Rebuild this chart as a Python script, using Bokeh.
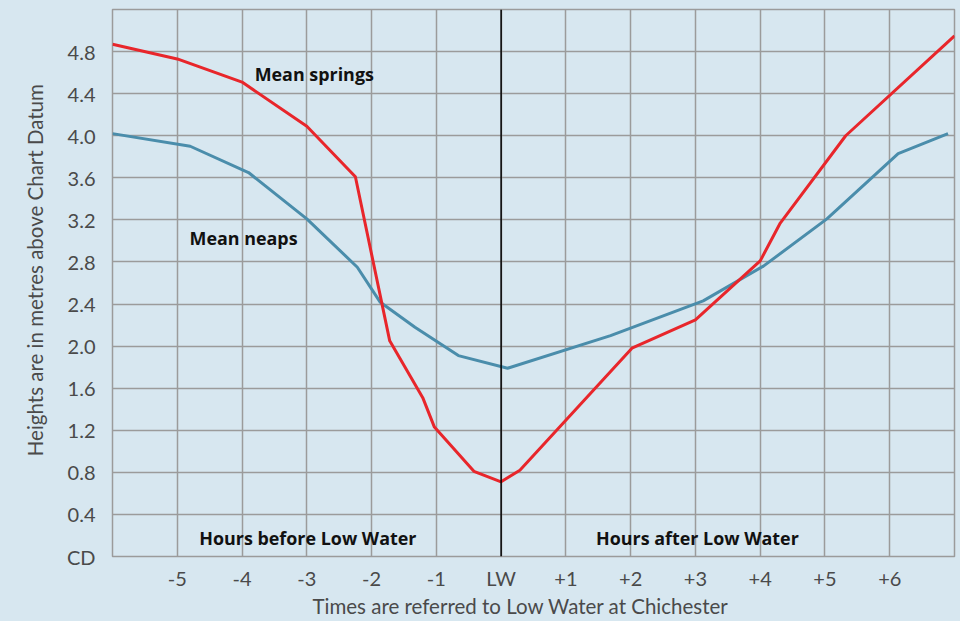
from bokeh.plotting import figure
from bokeh.models import Range1d, FixedTicker, Span, Label
from bokeh.embed import file_html
from bokeh.resources import INLINE

# ---- data ----
springs_x = [-6, -5, -4, -3, -2.25, -1.72, -1.21, -1.03, -0.42, 0, 0.29, 2.02, 3.0, 4.0, 4.31, 5.32, 7.0]
springs_y = [4.87, 4.73, 4.51, 4.09, 3.61, 2.05, 1.51, 1.23, 0.81, 0.71, 0.82, 1.98, 2.25, 2.81, 3.17, 4.00, 4.95]

neaps_x = [-6, -4.8, -3.9, -3.0, -2.22, -1.87, -1.33, -0.66, 0.1, 1.69, 3.12, 4.05, 5.03, 6.13, 6.9]
neaps_y = [4.02, 3.90, 3.65, 3.21, 2.75, 2.42, 2.18, 1.91, 1.79, 2.10, 2.43, 2.76, 3.21, 3.83, 4.02]

x_ticks = [-5, -4, -3, -2, -1, 0, 1, 2, 3, 4, 5, 6]
x_tick_labels = ["-5", "-4", "-3", "-2", "-1", "LW", "+1", "+2", "+3", "+4", "+5", "+6"]
y_ticks = [0, 0.4, 0.8, 1.2, 1.6, 2.0, 2.4, 2.8, 3.2, 3.6, 4.0, 4.4, 4.8]
y_tick_labels = ["CD", "0.4", "0.8", "1.2", "1.6", "2.0", "2.4", "2.8", "3.2", "3.6", "4.0", "4.4", "4.8"]
x_grid = list(range(-6, 8))
y_grid = [round(0.4 * i, 1) for i in range(0, 14)]

x_title = "Times are referred to Low Water at Chichester"
y_title = "Heights are in metres above Chart Datum"

BG = "#d7e7f0"
GRID = "#9b9b9b"
RED = "#e8262b"
BLUE = "#4a8dab"
TXT = "#4a4a4a"

p = figure(width=960, height=621, output_backend="svg", toolbar_location=None,
           x_range=Range1d(-6, 7), y_range=Range1d(0, 5.2),
           min_border_left=112, min_border_right=6, min_border_top=9, min_border_bottom=65)
p.background_fill_color = BG
p.border_fill_color = BG
p.outline_line_color = GRID
p.outline_line_width = 1.5

# axes
p.xaxis.ticker = FixedTicker(ticks=x_ticks)
p.xaxis.major_label_overrides = {t: l for t, l in zip(x_ticks, x_tick_labels)}
p.yaxis.ticker = FixedTicker(ticks=y_ticks)
p.yaxis.major_label_overrides = {t: l for t, l in zip(y_ticks, y_tick_labels)}
for ax in (p.xaxis, p.yaxis):
    ax.axis_line_color = None
    ax.major_tick_line_color = None
    ax.minor_tick_line_color = None
    ax.major_tick_out = 0
    ax.major_tick_in = 0
    ax.major_label_text_font = "Lato"
    ax.major_label_text_font_size = "20px"
    ax.major_label_text_color = TXT
    ax.axis_label_text_font = "Lato"
    ax.axis_label_text_font_size = "20.5px"
    ax.axis_label_text_font_style = "normal"
    ax.axis_label_text_color = TXT
p.xaxis.major_label_standoff = 9
p.yaxis.major_label_standoff = 17
# trailing / leading spaces only nudge the centred title to where the reference has it
p.xaxis.axis_label = x_title + "\u2003\u2002"
p.xaxis.axis_label_standoff = 1
p.yaxis.axis_label = "\u2003\u2002" + y_title
p.yaxis.axis_label_standoff = 17

p.xgrid.ticker = FixedTicker(ticks=x_grid)
p.ygrid.ticker = FixedTicker(ticks=y_grid)
for g in (p.xgrid, p.ygrid):
    g.grid_line_color = GRID
    g.grid_line_width = 1.5

p.add_layout(Span(location=0, dimension="height", line_color="black", line_width=1.5))

p.line(neaps_x, neaps_y, line_color=BLUE, line_width=3, line_join="round")
p.line(springs_x, springs_y, line_color=RED, line_width=3, line_join="round")

# in-plot labels
def blabel(x, y, t):
    p.add_layout(Label(x=x, y=y, text=t, text_font="Open Sans", text_font_style="bold",
                       text_font_size="17.9px", text_color="#111111",
                       text_align="left", text_baseline="alphabetic"))

blabel(-3.805, 4.59, "Mean springs")
blabel(-4.81, 3.03, "Mean neaps")
blabel(-4.66, 0.172, "Hours before Low Water")
blabel(1.466, 0.18, "Hours after Low Water")

html = file_html(p, INLINE)
html = html.replace("<head>", "<head><style>html,body{margin:0;padding:0;background:%s;}</style>" % BG, 1)
open("out.html", "w").write(html)
